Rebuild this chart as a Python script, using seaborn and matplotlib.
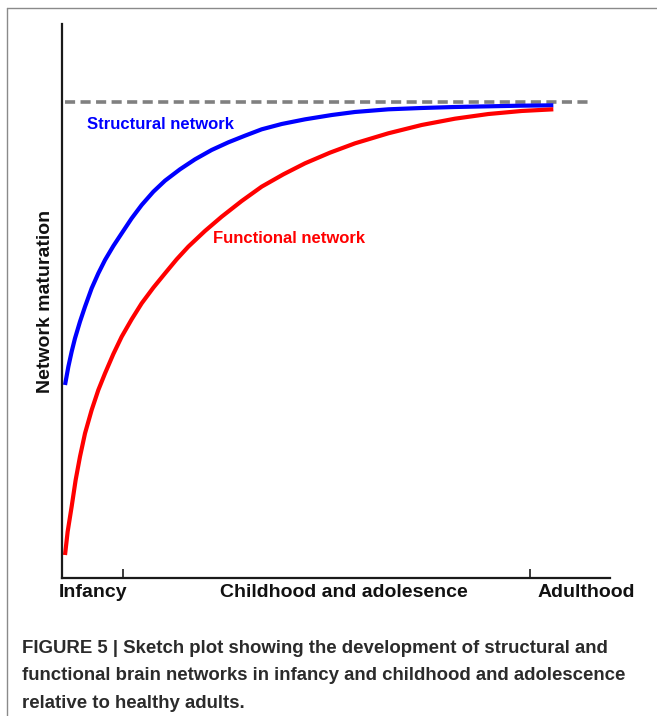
import matplotlib
matplotlib.use("Agg")
import matplotlib.pyplot as plt
from matplotlib.lines import Line2D
import matplotlib.transforms as mtransforms
import seaborn as sns
import pandas as pd

# ---- data ----
structural_x = [0.55, 1.16, 1.76, 2.37, 3.28, 4.20, 5.41, 6.63, 7.85, 9.37, 10.89, 12.71,
                14.54, 16.67, 18.80, 21.53, 24.27, 27.31, 30.35, 33.39, 36.44, 40.09,
                44.34, 49.21, 53.47, 59.55, 65.63, 71.72, 77.80, 83.88, 89.66]
structural_y = [34.84, 38.15, 40.85, 43.26, 46.27, 48.98, 52.29, 55.00, 57.40, 59.93, 62.21,
                64.92, 67.33, 69.73, 71.72, 73.77, 75.57, 77.26, 78.64, 79.84, 80.99, 81.95,
                82.79, 83.57, 84.12, 84.60, 84.84, 85.02, 85.14, 85.26, 85.32]

functional_x = [0.55, 1.03, 1.76, 2.49, 3.28, 4.20, 5.41, 6.63, 7.85, 9.37, 10.89, 12.71,
                14.54, 16.67, 18.80, 20.92, 23.05, 26.09, 29.14, 32.79, 36.44, 40.39,
                44.34, 48.91, 53.47, 59.55, 65.63, 71.72, 77.80, 83.88, 89.66]
functional_y = [4.15, 8.36, 12.88, 17.69, 21.90, 26.11, 30.32, 33.94, 36.94, 40.43, 43.56,
                46.69, 49.58, 52.41, 54.99, 57.52, 59.81, 62.64, 65.22, 68.05, 70.64, 72.86,
                74.85, 76.78, 78.46, 80.27, 81.77, 82.91, 83.75, 84.30, 84.60]

adult_level = 85.9
adult_x = [0.5, 96.4]

stage_ticks = [11.1, 85.4]
stage_labels = ["Infancy", "Childhood and adolesence", "Adulthood"]
stage_label_x = [5.7, 51.4, 95.7]

series_names = ["Structural network", "Functional network"]
series_colors = ["#0000ff", "#ff0000"]
series_label_pos = [(4.5, 81.9), (27.6, 61.2)]

caption_lines = [
    "FIGURE 5 | Sketch plot showing the development of structural and",
    "functional brain networks in infancy and childhood and adolescence",
    "relative to healthy adults.",
]

# ---- build data frame ----
df = pd.concat([
    pd.DataFrame({"age": structural_x, "maturation": structural_y, "network": series_names[0]}),
    pd.DataFrame({"age": functional_x, "maturation": functional_y, "network": series_names[1]}),
], ignore_index=True)

sns.set_style("white")
plt.rcParams["font.family"] = ["Liberation Sans", "DejaVu Sans"]

W, H = 657, 716
fig = plt.figure(figsize=(W / 100, H / 100), dpi=100)
ax = fig.add_axes([62 / W, 1 - 578 / H, (610 - 62) / W, (578 - 24) / H])

# reference (adult) level
ax.plot(adult_x, [adult_level, adult_level], color="#808080", lw=2.6,
        dashes=(2.8, 1.5), solid_capstyle="butt", dash_capstyle="butt", zorder=1)

sns.lineplot(data=df, x="age", y="maturation", hue="network",
             palette=dict(zip(series_names, series_colors)),
             sort=False, estimator=None, lw=3.0, legend=False, ax=ax, zorder=2)
for ln in ax.get_lines()[1:]:
    ln.set_solid_capstyle("butt")
    ln.set_solid_joinstyle("round")

ax.set_xlim(0, 100)
ax.set_ylim(0, 100)

for spine in ["top", "right"]:
    ax.spines[spine].set_visible(False)
for spine in ["left", "bottom"]:
    ax.spines[spine].set_color("#1a1a1a")
    ax.spines[spine].set_linewidth(1.6)

ax.set_xticks(stage_ticks)
ax.set_xticklabels([])
ax.set_yticks([])
ax.tick_params(axis="x", direction="in", length=6.5, width=1.2, color="#1a1a1a", bottom=True)
ax.set_xlabel("")
ax.set_ylabel("Network maturation", fontsize=14, fontweight="bold", labelpad=6, color="#111111")

trans = mtransforms.blended_transform_factory(ax.transData, ax.transAxes)
for lx, lab in zip(stage_label_x, stage_labels):
    ax.text(lx, -0.027, lab, transform=trans, ha="center", va="center",
            fontsize=14, fontweight="bold", color="#111111", clip_on=False)

for name, col, (tx, ty) in zip(series_names, series_colors, series_label_pos):
    ax.text(tx, ty, name, color=col, fontsize=12, fontweight="bold", ha="left", va="center")

# caption
baselines = [653, 680.5, 707.5]
for line, b in zip(caption_lines, baselines):
    fig.text(22 / W, 1 - b / H, line, ha="left", va="baseline", fontsize=13.4,
             fontweight="bold", color="#2b2b2b")

# outer frame
fc = "#8a8a8a"
fig.add_artist(Line2D([7 / W, 7 / W], [0, 1 - 8 / H], color=fc, lw=1.0))
fig.add_artist(Line2D([7 / W, 1], [1 - 8 / H, 1 - 8 / H], color=fc, lw=1.0))

fig.savefig("out.png", dpi=100)
